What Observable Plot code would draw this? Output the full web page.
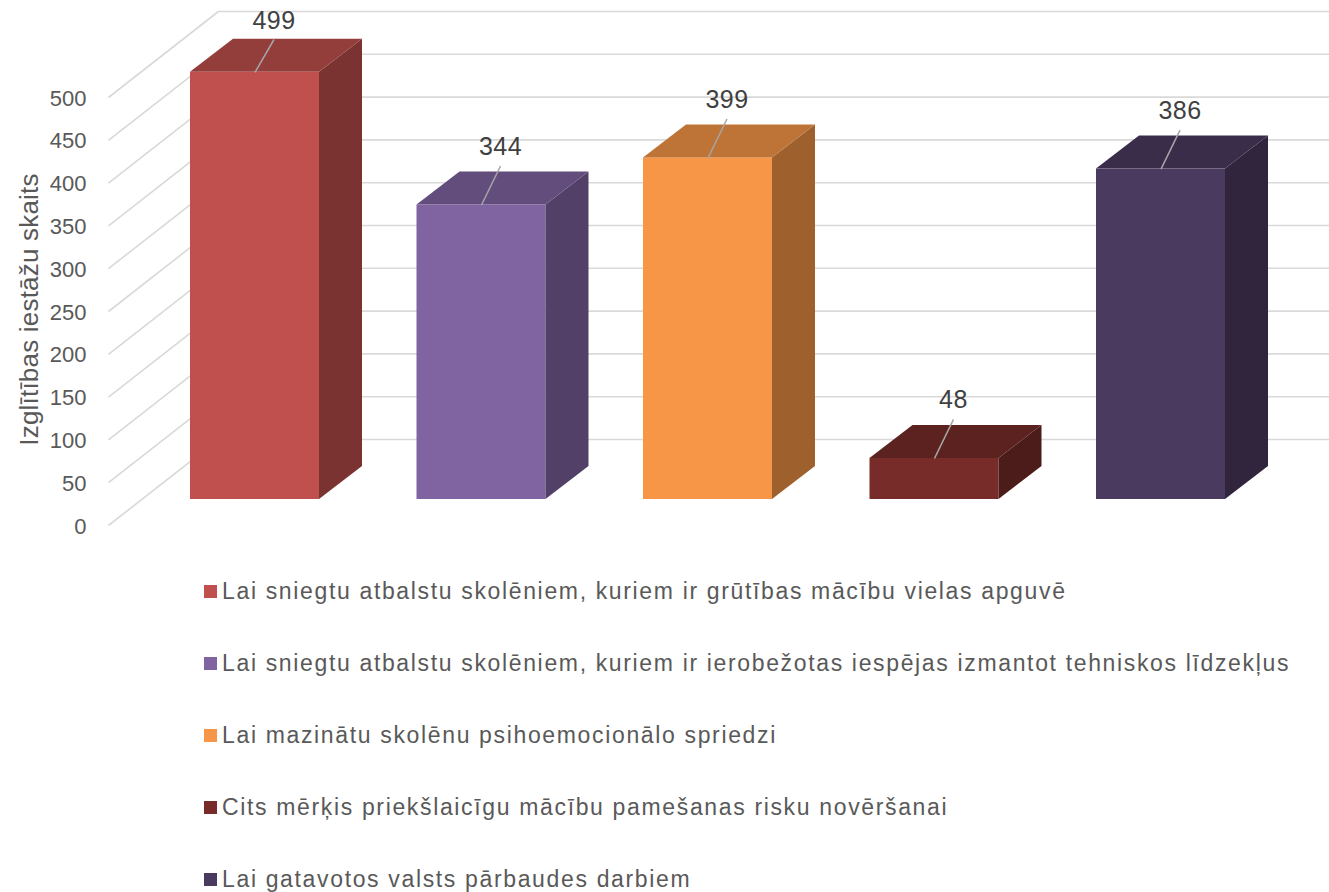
<!DOCTYPE html>
<html>
<head>
<meta charset="utf-8">
<script src="https://cdn.jsdelivr.net/npm/d3@7"></script>
<script src="https://cdn.jsdelivr.net/npm/@observablehq/plot@0.6"></script>
<style>
  body { margin: 0; background: #fff; font-family: "Liberation Sans", Arial, sans-serif; }
  #legend { margin-top: 5px; padding-left: 204px; }
  .item { height: 72px; display: flex; align-items: center; font-size: 23px; letter-spacing: 1.65px; color: #595959; white-space: nowrap; }
  .sw { width: 13px; height: 13px; margin-right: 5px; flex: none; }
</style>
</head>
<body>
<div id="chart"></div>
<div id="legend"></div>
<script>
// ---- data ----
const categories = [
  "Lai sniegtu atbalstu skolēniem, kuriem ir grūtības mācību vielas apguvē",
  "Lai sniegtu atbalstu skolēniem, kuriem ir ierobežotas iespējas izmantot tehniskos līdzekļus",
  "Lai mazinātu skolēnu psihoemocionālo spriedzi",
  "Cits mērķis priekšlaicīgu mācību pamešanas risku novēršanai",
  "Lai gatavotos valsts pārbaudes darbiem"
];
const values = [499, 344, 399, 48, 386];
const colors = ["#C0504D", "#8064A2", "#F79646", "#772C2A", "#4B3A60"];
const yTicks = [0, 50, 100, 150, 200, 250, 300, 350, 400, 450, 500];
const yTitle = "Izglītības iestāžu skaits";

// ---- geometry (pixel -> data conversions) ----
const slotPx = 226.5;          // px per category
const unitPx = 0.856;          // px per value unit
const baseY = 499;             // pixel of value 0 on the bar plane
const px2x = p => p / slotPx;
const px2y = p => p / unitPx;
const yAtPx = p => (baseY - p) / unitPx;
const hw = px2x(64.5);         // half bar width
const depth = [px2x(43), px2y(33)];      // bar depth vector (data units)
const front = [px2x(-33.3), px2y(-26)];  // front plane offset
const back = [px2x(76.7), px2y(60)];     // back wall offset
const n = values.length;

const shade = (c, k) => { const r = d3.rgb(c); return d3.rgb(r.r * k, r.g * k, r.b * k).formatHex(); };
const bars = values.map((v, i) => ({i, v, label: categories[i], c: colors[i]}));

const sideFaces = bars.flatMap(b => [
  {z: b.i, x: b.i + hw, y1: 0, y2: b.v, c: shade(b.c, 0.64)},
  {z: b.i, x: b.i + hw + depth[0], y1: depth[1], y2: b.v + depth[1], c: shade(b.c, 0.64)}
]);
const topFaces = bars.flatMap(b => [
  {z: b.i, y: b.v, x1: b.i - hw, x2: b.i + hw, c: shade(b.c, 0.77)},
  {z: b.i, y: b.v + depth[1], x1: b.i - hw + depth[0], x2: b.i + hw + depth[0], c: shade(b.c, 0.77)}
]);
const backGrid = yTicks.map(t => ({x1: -0.5 + back[0], x2: n - 0.5 + back[0], y: t + back[1]}));
const diagGrid = yTicks.map(t => ({x1: -0.5 + front[0], y1: t + front[1], x2: -0.5 + back[0], y2: t + back[1]}));
const tickLabels = yTicks.map(t => ({x: -0.5 + front[0], y: t + front[1], t}));
const valueLabels = bars.map(b => ({
  x: b.i + px2x(19),
  y: Math.min(b.v + px2y(58), yAtPx(20)),
  t: String(b.v)
}));
const leaders = bars.map((b, k) => ({x1: b.i, y1: b.v, x2: valueLabels[k].x, y2: valueLabels[k].y - px2y(19)}));

const chart = Plot.plot({
  width: 1329,
  height: 550,
  marginLeft: 108,
  marginRight: 0,
  marginTop: 0,
  marginBottom: 0,
  x: {type: "linear", domain: [0, 4], range: [254.5, 254.5 + 4 * slotPx], axis: null},
  y: {type: "linear", domain: [0, 500], range: [baseY, baseY - 500 * unitPx], axis: null},
  color: {type: "identity"},
  style: {fontFamily: "Liberation Sans, Arial, sans-serif", background: "white"},
  marks: [
    Plot.ruleY(backGrid, {x1: "x1", x2: "x2", y: "y", stroke: "#d9d9d9", strokeWidth: 1.6}),
    Plot.link(diagGrid, {x1: "x1", y1: "y1", x2: "x2", y2: "y2", stroke: "#d9d9d9", strokeWidth: 1.6}),
    Plot.text(tickLabels, {x: "x", y: "y", text: "t", textAnchor: "end", dx: -22, dy: 1, fontSize: 22, fill: "#595959"}),
    Plot.text([yTitle], {frameAnchor: "left", y: () => yAtPx(309), text: d => d, textAnchor: "middle", lineAnchor: "middle", dx: -79, rotate: -90, fontSize: 26, fill: "#595959"}),
    Plot.rect(bars, {x1: d => d.i - hw, x2: d => d.i + hw, y1: 0, y2: "v", fill: "c"}),
    Plot.areaY(sideFaces, {x: "x", y1: "y1", y2: "y2", z: "z", fill: "c"}),
    Plot.areaX(topFaces, {y: "y", x1: "x1", x2: "x2", z: "z", fill: "c"}),
    Plot.link(leaders, {x1: "x1", y1: "y1", x2: "x2", y2: "y2", stroke: "#a6a6a6", strokeWidth: 1.5}),
    Plot.text(valueLabels, {x: "x", y: "y", text: "t", fontSize: 25, fill: "#404040", lineAnchor: "middle"})
  ]
});
// fine letter-spacing adjustments per text size
const spacing = {"26": "0.2px", "25": "0.5px"};
Object.entries(spacing).forEach(([fs, ls]) => {
  chart.querySelectorAll(`[font-size="${fs}"] text, text[font-size="${fs}"]`).forEach(t => t.style.letterSpacing = ls);
});
document.getElementById("chart").appendChild(chart);

const legend = document.getElementById("legend");
bars.forEach(b => {
  const row = document.createElement("div");
  row.className = "item";
  const sw = document.createElement("span");
  sw.className = "sw";
  sw.style.background = b.c;
  const tx = document.createElement("span");
  tx.textContent = b.label;
  row.appendChild(sw);
  row.appendChild(tx);
  legend.appendChild(row);
});
</script>
</body>
</html>
